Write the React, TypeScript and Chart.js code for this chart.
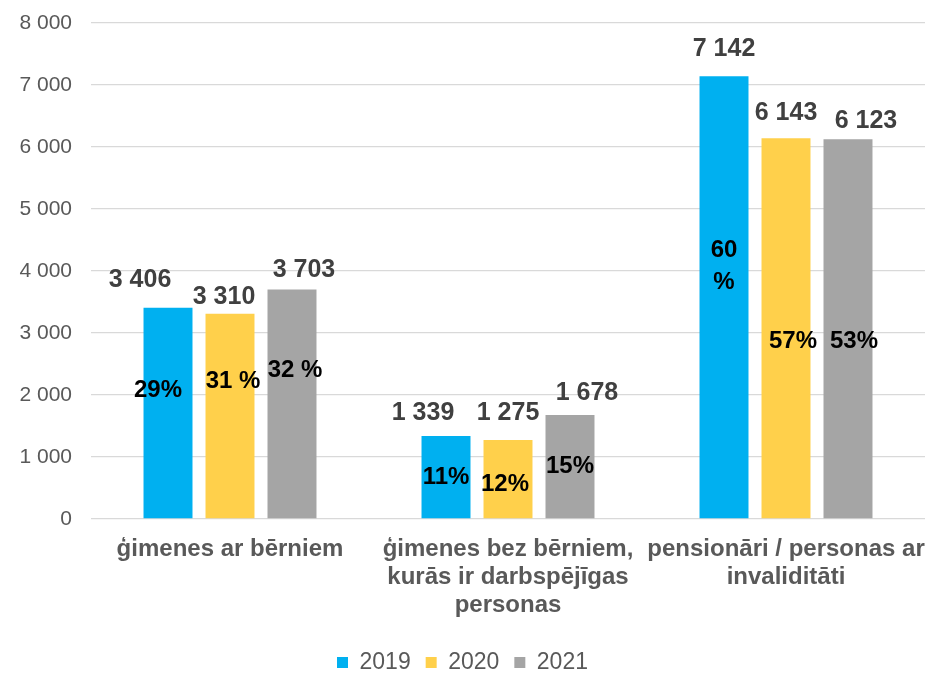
import React, { useEffect, useRef } from "react";
import { Chart, registerables } from "chart.js";

Chart.register(...registerables);

const categories: string[][] = [
  ["ģimenes ar bērniem"],
  ["ģimenes bez bērniem,", "kurās ir darbspējīgas", "personas"],
  ["pensionāri / personas ar", "invaliditāti"],
];
const seriesNames = ["2019", "2020", "2021"];
const values2019 = [3406, 1339, 7142];
const values2020 = [3310, 1275, 6143];
const values2021 = [3703, 1678, 6123];
const pct2019 = ["29%", "11%", "60\n%"];
const pct2020 = ["31 %", "12%", "57%"];
const pct2021 = ["32 %", "15%", "53%"];
// vertical anchor (in data units) where each percent label sits
const pctAnchor2019 = [2081, 677, 4081];
const pctAnchor2020 = [2226, 565, 2871];
const pctAnchor2021 = [2403, 855, 2871];
const yTicks = [0, 1000, 2000, 3000, 4000, 5000, 6000, 7000, 8000];

// label placement tweaks (pixels), kept apart from the data
const valueDx = [
  [-28, -23, 0],
  [-6, 0, 0],
  [12, 17, 18],
];
const valueDy = [
  [-28, -23, -27],
  [-17, -27, -25],
  [-19, -22, -18],
];
const pctDx = [
  [-10, 0, 0],
  [3, -3, 7],
  [3, 0, 6],
];

const colors = ["#00B0F0", "#FFD04B", "#A5A5A5"];
const FONT = "'Liberation Sans', Arial, sans-serif";

const fmt = (v: number) => {
  const s = String(Math.round(v));
  return s.replace(/\B(?=(\d{3})+(?!\d))/g, " ");
};

const labelPlugin = {
  id: "barLabels",
  afterDatasetsDraw(chart: any) {
    const ctx = chart.ctx;
    const yScale = chart.scales.y;
    const pcts = [pct2019, pct2020, pct2021];
    const anchors = [pctAnchor2019, pctAnchor2020, pctAnchor2021];
    ctx.save();
    chart.data.datasets.forEach((ds: any, di: number) => {
      const meta = chart.getDatasetMeta(di);
      meta.data.forEach((bar: any, i: number) => {
        const v = ds.data[i];
        ctx.font = `bold 25px ${FONT}`;
        ctx.fillStyle = "#404040";
        ctx.textAlign = "center";
        ctx.textBaseline = "middle";
        ctx.fillText(fmt(v), bar.x + valueDx[di][i], bar.y + valueDy[di][i]);
        ctx.font = `bold 24px ${FONT}`;
        ctx.fillStyle = "#000000";
        const lines = pcts[di][i].split("\n");
        const cy = yScale.getPixelForValue(anchors[di][i]);
        const lh = 32;
        lines.forEach((ln: string, li: number) => {
          const y = cy + (li - (lines.length - 1) / 2) * lh;
          ctx.fillText(ln, bar.x + pctDx[di][i], y);
        });
      });
    });
    ctx.restore();
  },
};

export default function App() {
  const ref = useRef<HTMLCanvasElement | null>(null);
  useEffect(() => {
    if (!ref.current) return;
    const chart = new Chart(ref.current, {
      type: "bar",
      data: {
        labels: categories,
        datasets: [values2019, values2020, values2021].map((d, i) => ({
          label: seriesNames[i],
          data: d,
          backgroundColor: colors[i],
          borderWidth: 0,
          categoryPercentage: 0.669,
          barPercentage: 0.79,
        })),
      },
      options: {
        animation: false,
        responsive: false,
        maintainAspectRatio: false,
        layout: { padding: { top: 23, right: 0, left: 0, bottom: 0 } },
        plugins: {
          tooltip: { enabled: false },
          legend: {
            position: "bottom",
            labels: {
              boxWidth: 11,
              boxHeight: 11,
              color: "#595959",
              font: { family: FONT, size: 23 },
              padding: 15,
            },
          },
        },
        scales: {
          x: {
            grid: { display: false },
            border: { display: false },
            ticks: {
              color: "#595959",
              font: { family: FONT, size: 24, weight: "bold", lineHeight: 1.17 },
              padding: 8,
              maxRotation: 0,
              autoSkip: false,
            },
            afterFit: (s: any) => {
              s.height = 117;
              s.paddingLeft = 0;
              s.paddingRight = 0;
            },
          },
          y: {
            min: 0,
            max: 8000,
            afterBuildTicks: (s: any) => {
              s.ticks = yTicks.map((v) => ({ value: v }));
            },
            grid: { color: "#D9D9D9", lineWidth: 1.3, drawTicks: false },
            border: { display: false },
            ticks: {
              color: "#595959",
              font: { family: FONT, size: 21 },
              padding: 19,
              callback: (v: any) => fmt(Number(v)),
            },
            afterFit: (s: any) => {
              s.width = 91;
              s.paddingTop = 0;
              s.paddingBottom = 0;
            },
          },
        },
      },
      plugins: [labelPlugin],
    });
    return () => chart.destroy();
  }, []);
  return (
    <div
      style={{
        position: "absolute",
        left: 0,
        top: 0,
        width: 925,
        height: 674,
        overflow: "hidden",
        background: "#fff",
      }}
    >
      <canvas ref={ref} width={925} height={684} style={{ width: 925, height: 684, display: "block" }} />
    </div>
  );
}
